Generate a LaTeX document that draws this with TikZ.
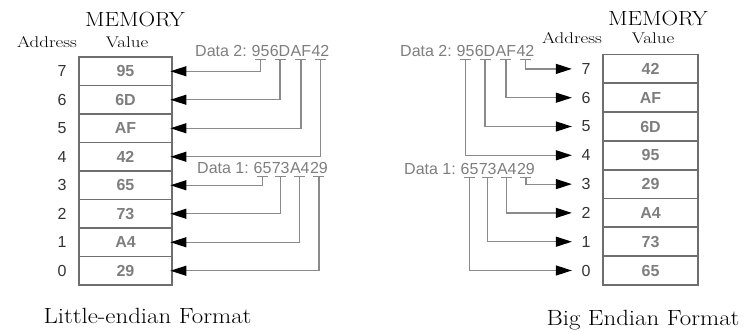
\documentclass[tikz,border=0pt]{standalone}
\usepackage{fontspec}
\usepackage{graphicx}
\setsansfont{Liberation Sans}
\usetikzlibrary{arrows.meta}
\definecolor{boxgray}{HTML}{6E6E6E}
\definecolor{txtgray}{HTML}{7E7E7E}
\definecolor{linegray}{HTML}{8A8A8A}
\newcommand{\stretchtext}[2]{\scalebox{#1}[1]{#2}}
\tikzset{
  cell/.style={draw=boxgray, line width=1.8pt, minimum width=93pt, minimum height=28.5pt, inner sep=0pt,
    font=\sffamily\bfseries\fontsize{16}{16}\selectfont, text=txtgray},
  addr/.style={font=\sffamily\fontsize{16}{16}\selectfont, text=black!80, inner sep=2pt},
  head/.style={font=\fontsize{15.5}{15.5}\selectfont, inner sep=0pt, anchor=base},
  title/.style={font=\fontsize{20.5}{20.5}\selectfont, inner sep=0pt, anchor=base},
  caption/.style={font=\fontsize{22}{22}\selectfont, inner sep=0pt, anchor=base},
  datalbl/.style={font=\sffamily\fontsize{16}{16}\selectfont, text=txtgray, inner sep=0pt, anchor=base west},
  pair/.style={datalbl, inner ysep=3.5pt},
  bar/.style={draw=linegray, line width=1.2pt},
  feed/.style={draw=linegray, line width=1.2pt, -{Triangle[length=16pt,width=10pt,color=black]}},
}
\begin{document}
\begin{tikzpicture}[x=1pt,y=-1pt]
\useasboundingbox (0,0) rectangle (754,332);

% little-endian memory
\node[title] (lmem) at (135,27) {\stretchtext{1.12}{MEMORY}};
\node[head] (laddr) at (47,47.5) {\stretchtext{1.22}{Address}};
\node[head] (lval) at (127,47.5) {\stretchtext{1.22}{Value}};
\foreach \v [count=\i from 0] in {95,6D,AF,42,65,73,A4,29} {
  \pgfmathtruncatemacro\a{7-\i}
  \node[cell] (L\a) at (125.5,{71.25+\i*28.5}) {\v};
  \node[addr] (la\a) at (62,{71.25+\i*28.5}) {\a};
}
\node[caption] (lcap) at (147.5,323) {\stretchtext{1.13}{Little-endian Format}};

% little-endian data
\node[datalbl] (ld2) at (195,56) {Data 2:\kern0.278em};
\node[pair] (ld2a) at (ld2.base east) {95};
\node[pair] (ld2b) at (ld2a.base east) {6D};
\node[pair] (ld2c) at (ld2b.base east) {AF};
\node[pair] (ld2d) at (ld2c.base east) {42};
\node[datalbl] (ld1) at (197,173) {Data 1:\kern0.278em};
\node[pair] (ld1a) at (ld1.base east) {65};
\node[pair] (ld1b) at (ld1a.base east) {73};
\node[pair] (ld1c) at (ld1b.base east) {A4};
\node[pair] (ld1d) at (ld1c.base east) {29};
\foreach \p/\c in {ld2a/L7,ld2b/L6,ld2c/L5,ld2d/L4,ld1a/L3,ld1b/L2,ld1c/L1,ld1d/L0} {
  \draw[bar] ([xshift=-5.5pt]\p.south) -- ([xshift=5.5pt]\p.south);
  \draw[feed, shorten >=-2.5pt] (\p.south) |- (\c.east);
}

% big-endian memory
\node[title] (rmem) at (658,25) {\stretchtext{1.12}{MEMORY}};
\node[head] (raddr) at (572,43) {\stretchtext{1.22}{Address}};
\node[head] (rval) at (653,43) {\stretchtext{1.22}{Value}};
\foreach \v [count=\i from 0] in {42,AF,6D,95,29,A4,73,65} {
  \pgfmathtruncatemacro\a{7-\i}
  \node[cell, minimum width=95pt, minimum height=28.8pt] (R\a) at (650.5,{68.9+\i*28.8}) {\v};
  \node[addr] (ra\a) at (586,{68.9+\i*28.8}) {\a};
}
\node[caption] (rcap) at (643,325) {\stretchtext{1.13}{Big Endian Format}};

% big-endian data
\node[datalbl] (rd2) at (400,56) {Data 2:\kern0.278em};
\node[pair] (rd2a) at (rd2.base east) {95};
\node[pair] (rd2b) at (rd2a.base east) {6D};
\node[pair] (rd2c) at (rd2b.base east) {AF};
\node[pair] (rd2d) at (rd2c.base east) {42};
\node[datalbl] (rd1) at (404,174) {Data 1:\kern0.278em};
\node[pair] (rd1a) at (rd1.base east) {65};
\node[pair] (rd1b) at (rd1a.base east) {73};
\node[pair] (rd1c) at (rd1b.base east) {A4};
\node[pair] (rd1d) at (rd1c.base east) {29};
\foreach \p/\c in {rd2a/ra4,rd2b/ra5,rd2c/ra6,rd2d/ra7,rd1a/ra0,rd1b/ra1,rd1c/ra2,rd1d/ra3} {
  \draw[bar] ([xshift=-5.5pt]\p.south) -- ([xshift=5.5pt]\p.south);
  \draw[feed, shorten >=7.5pt] (\p.south) |- (\c.west);
}
\end{tikzpicture}
\end{document}
